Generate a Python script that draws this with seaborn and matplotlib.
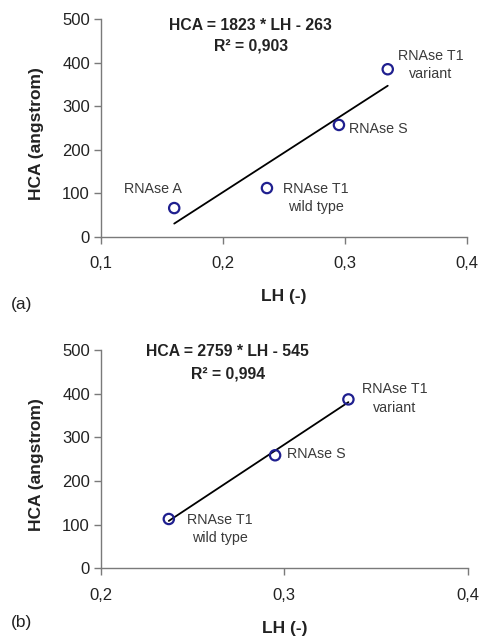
import matplotlib
matplotlib.use("Agg")
import matplotlib.pyplot as plt
import seaborn as sns
import pandas as pd
from matplotlib.ticker import FuncFormatter

# ---- data ----
names_a = ["RNAse A", "RNAse T1\nwild type", "RNAse S", "RNAse T1\nvariant"]
lh_a = [0.160, 0.236, 0.295, 0.335]
hca_a = [66, 112, 257, 385]
eq_a = "HCA = 1823 * LH - 263"
r2_a = "R² = 0,903"

names_b = ["RNAse T1\nwild type", "RNAse S", "RNAse T1\nvariant"]
lh_b = [0.237, 0.295, 0.335]
hca_b = [113, 259, 387]
eq_b = "HCA = 2759 * LH - 545"
r2_b = "R² = 0,994"

xticks_a = [0.1, 0.2, 0.3, 0.4]
xticks_b = [0.2, 0.3, 0.4]
yticks = [0, 100, 200, 300, 400, 500]

sns.set_theme(style="white")
plt.rcParams["font.family"] = ["Liberation Sans", "DejaVu Sans"]

fig = plt.figure(figsize=(4.81, 6.40), dpi=100)
ax_a = fig.add_axes([0.210, 0.630, 0.761, 0.340])
ax_b = fig.add_axes([0.210, 0.112, 0.762, 0.341])

axis_col = "#7a7a7a"
mk_col = "#1f1f8f"
txt_col = "#3a3a3a"

def comma(v, pos):
    return f"{v:.1f}".replace(".", ",")

def draw(ax, names, lh, hca, xticks, xlim, eq, r2, eqx, r2y, offsets):
    df = pd.DataFrame({"LH": lh, "HCA": hca})
    sns.regplot(data=df, x="LH", y="HCA", ax=ax, ci=None, truncate=True,
                scatter=False, line_kws=dict(color="black", lw=1.3))
    sns.scatterplot(data=df, x="LH", y="HCA", ax=ax, marker="o", s=55,
                    facecolor="none", edgecolor=mk_col, linewidth=1.6, zorder=5)
    ax.set_xlim(*xlim)
    ax.set_ylim(0, 500)
    ax.set_xticks(xticks)
    ax.set_yticks(yticks)
    ax.xaxis.set_major_formatter(FuncFormatter(comma))
    for s in ["top", "right"]:
        ax.spines[s].set_visible(False)
    for s in ["left", "bottom"]:
        ax.spines[s].set_color(axis_col)
        ax.spines[s].set_linewidth(1.0)
    ax.tick_params(axis="both", direction="out", colors=axis_col, labelcolor="#222222",
                   labelsize=12, length=5, width=1.0, left=True, bottom=True)
    ax.tick_params(axis="x", pad=9)
    ax.tick_params(axis="y", pad=3)
    ax.set_xlabel("LH (-)", fontsize=12.5, fontweight="bold", color="#222222")
    ax.set_ylabel("HCA (angstrom)", fontsize=12.5, fontweight="bold", color="#222222")
    ax.xaxis.set_label_coords(0.5, -0.24)
    ax.yaxis.set_label_coords(-0.156, 0.475)
    ax.text(eqx, r2y[0], eq, transform=ax.transAxes, ha="center", va="center",
            fontsize=11.3, fontweight="bold", color="#222222")
    ax.text(eqx, r2y[1], r2, transform=ax.transAxes, ha="center", va="center",
            fontsize=11.3, fontweight="bold", color="#222222")
    for n, x, y, (dx, dy, ha) in zip(names, lh, hca, offsets):
        ax.annotate(n, (x, y), xytext=(dx, dy), textcoords="offset pixels",
                    ha=ha, va="center", fontsize=10.3, color=txt_col,
                    multialignment="center", linespacing=1.4)

draw(ax_a, names_a, lh_a, hca_a, xticks_a, (0.1, 0.4), eq_a, r2_a, 0.409,
     (0.973, 0.875),
     [(-21, 19, "center"), (49, -10, "center"), (10, -4, "left"), (43, 4, "center")])
draw(ax_b, names_b, lh_b, hca_b, xticks_b, (0.2, 0.4), eq_b, r2_b, 0.346,
     (0.995, 0.891),
     [(51, -10, "center"), (12, 1, "left"), (46, 1, "center")])

fig.text(22 / 481, 1 - 304 / 640, "(a)", ha="center", va="center", fontsize=12.5, color="#222222")
fig.text(22 / 481, 1 - 623 / 640, "(b)", ha="center", va="center", fontsize=12.5, color="#222222")

fig.savefig("out.png", dpi=100)
